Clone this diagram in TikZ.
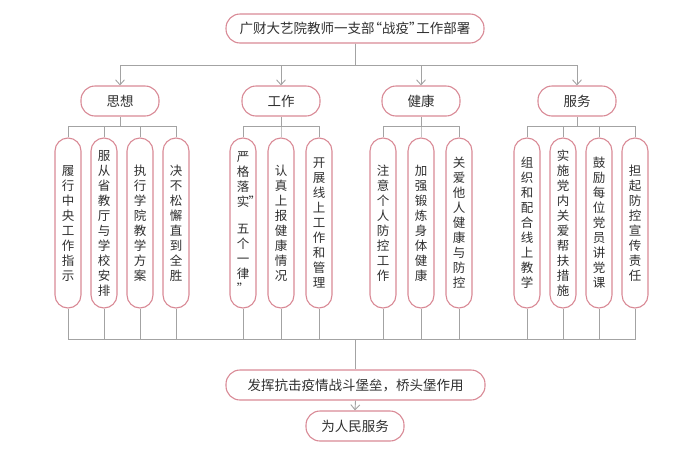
\documentclass[tikz,border=0pt]{standalone}
\usepackage{fontspec}
\setmainfont{Noto Sans CJK SC}
\usetikzlibrary{arrows.meta,calc}
\definecolor{RoseLine}{HTML}{D98A96}
\definecolor{AshGray}{HTML}{A3A3A3}
\definecolor{InkGray}{HTML}{303030}

\begin{document}
\begin{tikzpicture}[x=1pt,y=-1pt,
    pill/.style={draw=RoseLine,line width=1.1pt,fill=white,text=InkGray,inner sep=0pt,rounded corners=14pt,font=\fontsize{13.5}{15}\selectfont},
    leafbox/.style={pill,minimum width=26pt,minimum height=170pt,rounded corners=13pt,align=center,font=\fontsize{12.5}{15}\selectfont},
    wire/.style={draw=AshGray,line width=0.9pt},
    arrowline/.style={wire,-{Straight Barb[length=5pt,width=9pt]}}]
    \useasboundingbox (0,0) rectangle (700,453);
        \node[pill,minimum width=258pt,minimum height=29pt] (title) at (355,28.5) {广财大艺院教师一支部\kern-0.45em“战疫”\kern-0.45em工作部署};
        \coordinate (split) at (355,65);
        \node[pill,minimum width=259pt,minimum height=30pt] (result) at (355.5,385) {发挥抗击疫情战斗堡垒，桥头堡作用};
        \node[pill,minimum width=98pt,minimum height=30pt] (serve) at (355,426) {为人民服务};
        \draw[arrowline] (result.south) -- (serve.north);
    \foreach \n/\x/\txt in {sixiang/120/思想,gongzuo/281/工作,jiankang/421/健康,fuwu/577/服务}
        {
            \node[pill,minimum width=78pt,minimum height=30pt] (\n) at (\x,101) {\txt};
            \draw[arrowline] (title.south) -- (split) -| (\n.north);
        }
    \foreach \n/\g/\x/\txt in {
            sx1/sixiang/68/{履\\行\\中\\央\\工\\作\\指\\示},
            sx2/sixiang/104/{服\\从\\省\\教\\厅\\与\\学\\校\\安\\排},
            sx3/sixiang/140/{执\\行\\学\\院\\教\\学\\方\\案},
            sx4/sixiang/176/{决\\不\\松\\懈\\直\\到\\全\\胜},
            gz1/gongzuo/243/{严\\格\\落\\实\rlap{\kern-0.05em”}\\[12pt]五\\个\\一\\律\\”},
            gz2/gongzuo/281/{认\\真\\上\\报\\健\\康\\情\\况},
            gz3/gongzuo/319/{开\\展\\线\\上\\工\\作\\和\\管\\理},
            jk1/jiankang/383/{注\\意\\个\\人\\防\\控\\工\\作},
            jk2/jiankang/421/{加\\强\\锻\\炼\\身\\体\\健\\康},
            jk3/jiankang/459/{关\\爱\\他\\人\\健\\康\\与\\防\\控},
            fw1/fuwu/527/{组\\织\\和\\配\\合\\线\\上\\教\\学},
            fw2/fuwu/563/{实\\施\\党\\内\\关\\爱\\帮\\扶\\措\\施},
            fw3/fuwu/599/{鼓\\励\\每\\位\\党\\员\\讲\\党\\课},
            fw4/fuwu/635/{担\\起\\防\\控\\宣\\传\\责\\任}}
        {
            \node[leafbox] (\n) at (\x,223) {\txt};
            \draw[wire] (\n.north) -- ++(0,-11) -| (\g.south);
            \draw[wire] (\n.south) -- ++(0,31) -| (result.north);
        }
\end{tikzpicture}
\end{document}
